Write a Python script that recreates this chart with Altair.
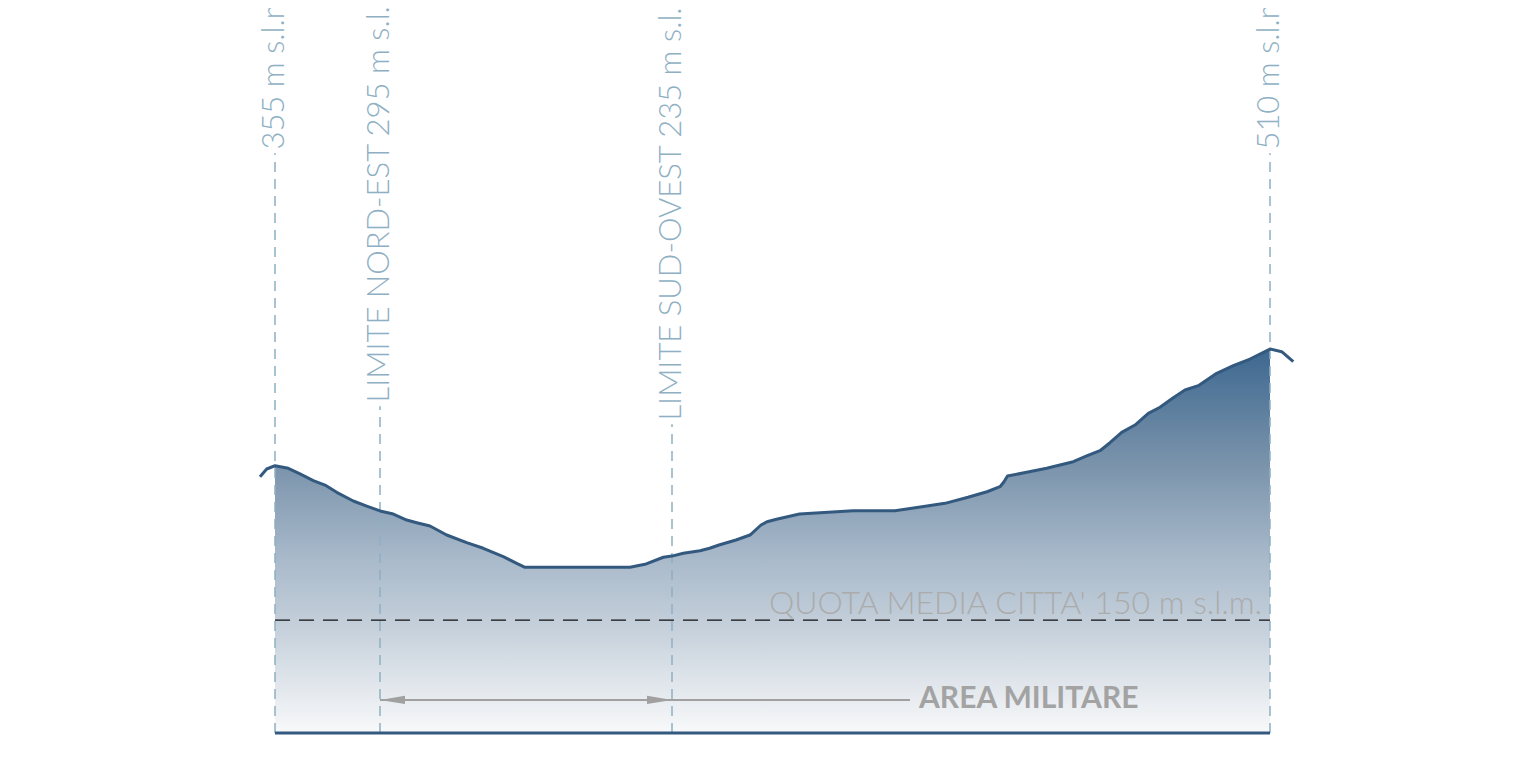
import altair as alt
import pandas as pd

# ---- data (distance along the section in px-units, elevation in m s.l.m.) ----
distanza = [-15, -8.3, 0, 13.3, 25, 38.3, 50, 61.7, 78.3, 91.7, 105, 118.3, 131.7, 141.7,
            155, 171.7, 191.7, 208.3, 228.3, 241.7, 250, 355, 370, 388.3, 397, 408.3, 425,
            434.6, 444, 461, 475, 486, 492, 501.5, 524.5, 578, 620, 647, 670, 693, 712, 725,
            729, 732.5, 751.7, 771.7, 785, 798.3, 811.7, 825, 835, 846.7, 860, 873.3, 885,
            898.3, 910, 923.3, 941.7, 958.3, 975, 995, 1006.7, 1018.3]
quota = [340.5, 350.7, 355, 351.6, 344.1, 335.2, 329.4, 319.7, 308.2, 301.5, 295, 290.9,
         282.9, 279.4, 275, 263, 252.8, 245.4, 234.2, 225.4, 220.1, 220.1, 224.1, 233.5,
         235, 238.7, 242.2, 245.4, 249.7, 256.4, 263, 276.3, 280.7, 283.9, 290.9, 295.3,
         295.3, 300.6, 305.1, 313.1, 320.5, 327.2, 333.8, 341.4, 346.3, 351.6, 356, 360.4,
         368, 375, 385.6, 399.4, 409.1, 424.7, 432.7, 445.4, 455.6, 461.4, 477.8, 487.9,
         496.8, 510, 506.5, 493.2]

marker_x = [0, 105, 397, 995]
marker_label = ["355 m s.l.m.", "LIMITE NORD-EST 295 m s.l.m.",
                "LIMITE SUD-OVEST 235 m s.l.m.", "510 m s.l.m."]
marker_label_top = [775, 439, 415, 775]

sezione_inizio, sezione_fine = 0, 995
quota_media = 150
quota_media_label = "QUOTA MEDIA CITTA' 150 m s.l.m."
area_label = "AREA MILITARE"
area_inizio, area_fine = 105, 397

profile = pd.DataFrame({"d": distanza, "q": quota})
profile["zero"] = 0
markers = pd.DataFrame({"d": marker_x, "label": marker_label, "top": marker_label_top})
markers["top_rule"] = markers["top"] - 5
markers["zero"] = 0

xs = alt.Scale(domain=[-267, 1247], nice=False, zero=False)
ys = alt.Scale(domain=[-30.55, 963.1], nice=False, zero=False)

BLUE = "#34597f"
LBLUE = "#8fb0c4"
GRAY = "#a3a3a3"

grad = alt.Gradient(
    gradient="linear",
    stops=[
        alt.GradientStop(color="#3d6890", offset=0),
        alt.GradientStop(color="#7a93ab", offset=0.3),
        alt.GradientStop(color="#a9bacb", offset=0.55),
        alt.GradientStop(color="#c4cfda", offset=0.72),
        alt.GradientStop(color="#f8f9fa", offset=1),
    ],
    x1=1, x2=1, y1=0, y2=1,
)

area = alt.Chart(profile).transform_filter(
    (alt.datum.d >= sezione_inizio) & (alt.datum.d <= sezione_fine)
).mark_area(color=grad).encode(
    x=alt.X("d:Q", scale=xs, axis=None),
    y=alt.Y("q:Q", scale=ys, axis=None),
    y2="zero:Q",
)

line = alt.Chart(profile).mark_line(color=BLUE, strokeWidth=3, strokeJoin="round").encode(
    x=alt.X("d:Q", scale=xs, axis=None),
    y=alt.Y("q:Q", scale=ys, axis=None),
)

base_df = pd.DataFrame({"a": [sezione_inizio], "b": [sezione_fine], "q": [0], "m": [quota_media]})

base = alt.Chart(base_df).mark_rule(color=BLUE, strokeWidth=3).encode(
    x=alt.X("a:Q", scale=xs, axis=None), x2="b:Q",
    y=alt.Y("q:Q", scale=ys, axis=None),
)

media = alt.Chart(base_df).mark_rule(color="#111111", strokeWidth=1.2, strokeDash=[15, 9]).encode(
    x=alt.X("a:Q", scale=xs, axis=None), x2="b:Q",
    y=alt.Y("m:Q", scale=ys, axis=None),
)

media_text = alt.Chart(pd.DataFrame({"d": [987], "q": [158], "t": [quota_media_label]})).mark_text(
    align="right", baseline="alphabetic", font="Lato", fontWeight=300, fontSize=32, color="#ababab"
).encode(
    x=alt.X("d:Q", scale=xs, axis=None),
    y=alt.Y("q:Q", scale=ys, axis=None),
    text="t:N",
)

vrules = alt.Chart(markers).mark_rule(color=LBLUE, strokeWidth=1.5, strokeDash=[10, 7]).encode(
    x=alt.X("d:Q", scale=xs, axis=None),
    y=alt.Y("zero:Q", scale=ys, axis=None),
    y2="top_rule:Q",
)

vtext = alt.Chart(markers).mark_text(
    angle=270, align="left", baseline="middle", font="Lato", fontWeight=300,
    fontSize=31, color=LBLUE
).encode(
    x=alt.X("d:Q", scale=xs, axis=None),
    y=alt.Y("top:Q", scale=ys, axis=None),
    text="label:N",
)

arrow_q = 44
arrow_df = pd.DataFrame({"a": [area_inizio], "b": [635], "q": [arrow_q]})
arrow_line = alt.Chart(arrow_df).mark_rule(color="#a0a0a0", strokeWidth=2).encode(
    x=alt.X("a:Q", scale=xs, axis=None), x2="b:Q",
    y=alt.Y("q:Q", scale=ys, axis=None),
)

head_left = alt.Chart(pd.DataFrame({"d": [area_inizio + 12.5], "q": [arrow_q]})).mark_point(
    shape="M -1 0 L 1 -0.33 L 1 0.33 Z", filled=True, size=625, color="#a0a0a0", opacity=1,
    strokeWidth=0
).encode(x=alt.X("d:Q", scale=xs, axis=None), y=alt.Y("q:Q", scale=ys, axis=None))

head_right = alt.Chart(pd.DataFrame({"d": [area_fine - 12.5], "q": [arrow_q]})).mark_point(
    shape="M 1 0 L -1 -0.33 L -1 0.33 Z", filled=True, size=625, color="#a0a0a0", opacity=1,
    strokeWidth=0
).encode(x=alt.X("d:Q", scale=xs, axis=None), y=alt.Y("q:Q", scale=ys, axis=None))

area_text = alt.Chart(pd.DataFrame({"d": [644], "q": [45], "t": [area_label]})).mark_text(
    align="left", baseline="middle", font="Lato", fontWeight="bold", fontSize=30, color=GRAY
).encode(
    x=alt.X("d:Q", scale=xs, axis=None),
    y=alt.Y("q:Q", scale=ys, axis=None),
    text="t:N",
)

chart = alt.layer(
    area, media, vrules, base, line, media_text, vtext, arrow_line, head_left, head_right, area_text
).properties(
    width=1514, height=748,
    autosize=alt.AutoSizeParams(type="none"),
    padding=0,
).configure_view(stroke=None)

chart.save("out.html", embed_options={"renderer": "svg", "actions": False})
